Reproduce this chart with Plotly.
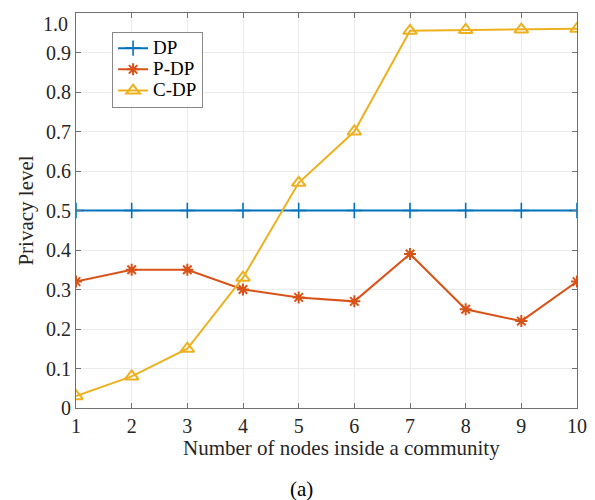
import plotly.graph_objects as go

# Community size on the x axis
nodes = [1, 2, 3, 4, 5, 6, 7, 8, 9, 10]

# Privacy level of each scheme
dp = [0.5, 0.5, 0.5, 0.5, 0.5, 0.5, 0.5, 0.5, 0.5, 0.5]
p_dp = [0.32, 0.35, 0.35, 0.30, 0.28, 0.27, 0.39, 0.25, 0.22, 0.32]
c_dp = [0.03, 0.08, 0.15, 0.33, 0.57, 0.70, 0.955, 0.957, 0.958, 0.96]

series_names = ["DP", "P-DP", "C-DP"]

y_ticks = [0, 0.1, 0.2, 0.3, 0.4, 0.5, 0.6, 0.7, 0.8, 0.9, 1.0]
# the top label is placed separately so it stays inside the figure
y_tick_text = ["0", "0.1", "0.2", "0.3", "0.4", "0.5", "0.6", "0.7", "0.8", "0.9", ""]
top_label = "1.0"

x_title = "Number of nodes inside a community"
y_title = "Privacy level"
caption = "(a)"

FONT = "Liberation Serif"
TEXT = "#262626"


def legend_label(name):
    # larger glyphs than the legend's base size, keeping the rows compact
    return f"<span style='font-size:19px'>{name}</span>"


fig = go.Figure()
fig.add_trace(go.Scatter(
    x=nodes, y=dp, name=legend_label(series_names[0]), mode="lines+markers",
    line=dict(color="#0072BD", width=2),
    marker=dict(symbol="cross-thin-open", size=11, line=dict(color="#0072BD", width=1.6)),
))
fig.add_trace(go.Scatter(
    x=nodes, y=p_dp, name=legend_label(series_names[1]), mode="lines+markers",
    line=dict(color="#D95319", width=2),
    marker=dict(symbol="asterisk-open", size=10, line=dict(color="#D95319", width=2)),
))
fig.add_trace(go.Scatter(
    x=nodes, y=c_dp, name=legend_label(series_names[2]), mode="lines+markers",
    line=dict(color="#EDB120", width=2),
    marker=dict(symbol="triangle-up-open", size=12, line=dict(color="#EDB120", width=2)),
))

axis_common = dict(
    showline=True, linecolor="#707070", linewidth=1,
    mirror="allticks", ticks="inside", ticklen=5, tickcolor="#707070",
    showgrid=True, gridcolor="#ebebeb", gridwidth=1, zeroline=False,
    tickfont=dict(family=FONT, size=20, color=TEXT),
    automargin=False,
)

fig.update_xaxes(range=[1, 10], tickvals=nodes, **axis_common)
fig.update_yaxes(
    range=[0, 1], tickvals=y_ticks, ticktext=y_tick_text,
    title=dict(text=y_title, font=dict(family=FONT, size=21, color=TEXT), standoff=6),
    **axis_common,
)

fig.add_annotation(
    text=top_label, xref="paper", yref="paper", x=0, y=1,
    xanchor="right", yanchor="top", xshift=-6, yshift=2,
    showarrow=False, font=dict(family=FONT, size=20, color=TEXT),
)

# x-axis title, sitting slightly right of the plot centre
fig.add_annotation(
    text=x_title, xref="paper", yref="paper", x=0.529, y=-0.101,
    xanchor="center", yanchor="middle", showarrow=False,
    font=dict(family=FONT, size=21, color=TEXT),
)

fig.add_annotation(
    text=caption, xref="paper", yref="paper", x=0.451, y=-0.205,
    showarrow=False, yanchor="middle", xanchor="center",
    font=dict(family=FONT, size=21, color="#000000"),
)

fig.update_layout(
    width=595, height=500,
    margin=dict(l=76, r=18, t=13, b=92),
    paper_bgcolor="white", plot_bgcolor="white",
    font=dict(family=FONT, color="#000000"),
    legend=dict(
        x=0.072, y=0.953, xanchor="left", yanchor="top",
        bgcolor="white", bordercolor="#888888", borderwidth=1,
        font=dict(family=FONT, size=14, color="#000000"),
        itemwidth=30, tracegroupgap=0,
    ),
)

fig.write_html("out.html")
